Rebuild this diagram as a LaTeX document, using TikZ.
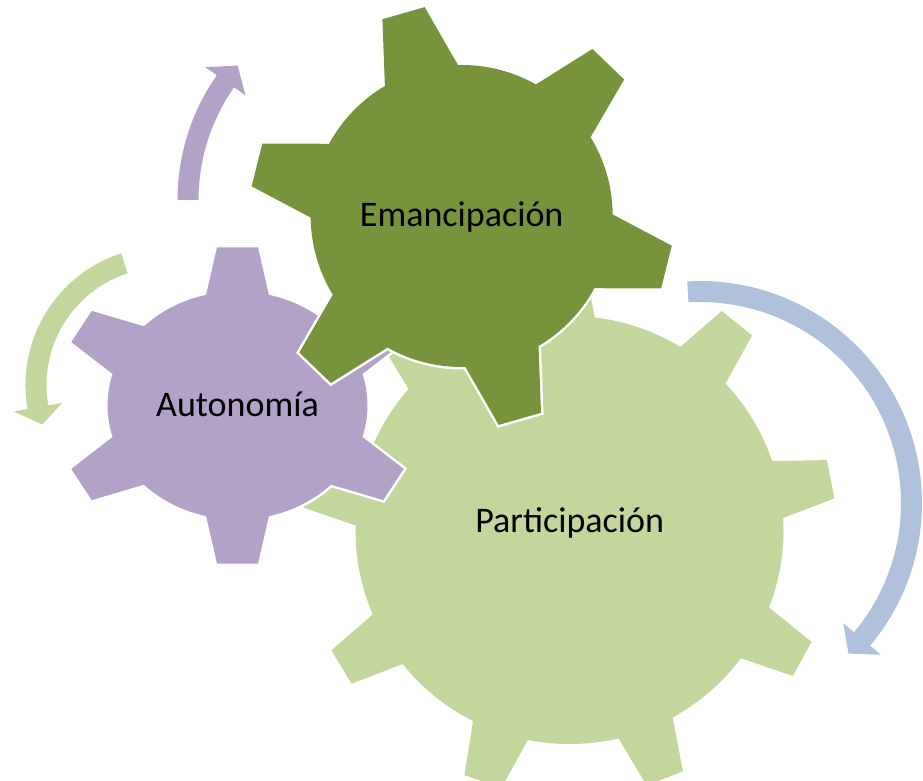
\documentclass[tikz,border=0pt]{standalone}
\usepackage{fontspec}
\setmainfont{Carlito}
\usetikzlibrary{calc}

\definecolor{verdeosc}{RGB}{119,147,60}
\definecolor{verdecla}{RGB}{195,214,155}
\definecolor{lila}{RGB}{179,162,199}
\definecolor{azulcla}{RGB}{176,193,220}

% #1 colour, #2 inner radius, #3 outer radius, #4 base half width, #5 tip half width, #6 tooth angles
\newcommand{\rueda}[6]{%
	\pgfmathsetmacro\rbase{100*sqrt((#2/100)^2-(#4/100)^2)}%
	\pgfmathsetmacro\rin{#3-1.5*(#3-\rbase)}%
	\pgfmathsetmacro\win{#5+1.5*(#4-#5)}%
	\foreach \capa in {borde,relleno}{%
		\path[\capa,fill=#1] (0,0) circle (#2);
		\foreach \a in {#6}{%
			\path[\capa,fill=#1] ($(\a:#3)+(\a+90:#5)$) -- ($(\a:#3)+(\a-90:#5)$)
				-- ($(\a:\rin)+(\a-90:\win)$) -- ($(\a:\rin)+(\a+90:\win)$) -- cycle;
		}
	}
}
% #1 colour, #2 radius, #3 tail angle, #4 head angle, #5 tip angle
\newcommand{\flecha}[5]{%
	\fill[#1] ({#3}:{#2+10.5}) arc[start angle=#3,end angle=#4,radius=#2+10.5]
		-- ({#4}:{#2+24.5}) -- ({#5}:{#2}) -- ({#4}:{#2-24.5}) -- ({#4}:{#2-10.5})
		arc[start angle=#4,end angle=#3,radius=#2-10.5] -- cycle;
}

\begin{document}
\begin{tikzpicture}[x=1pt,y=1pt,
	borde/.style={draw=white,line width=5pt},
	relleno/.style={draw=none},
	rotulo/.style={font=\fontsize{36}{40}\selectfont,anchor=base}]
	%\draw[help lines] (0,0) grid[step=50] (923,780);
	\useasboundingbox (0,0) rectangle (923,780);
	\coordinate (cPart) at (569.5,250);
	\coordinate (cAuto) at (237.5,374.5);
	\coordinate (cEman) at (461.7,564);
	\coordinate (cLila) at (395,580);
	\coordinate (cVerde) at (164,395);
	\coordinate (cAzul) at (700,277);
	% flechas
	\begin{scope}[shift={(cLila)}]
		\flecha{lila}{207}{180}{145}{139.5}
	\end{scope}
	\begin{scope}[shift={(cVerde)}]
		\flecha{verdecla}{128}{108}{190}{198}
	\end{scope}
	\begin{scope}[shift={(cAzul)}]
		\flecha{azulcla}{211.5}{93.3}{-40}{-45.4}
	\end{scope}
	% ruedas
	\begin{scope}[shift={(cPart)}]
		\rueda{verdecla}{214}{266}{29}{19.5}{11,51,...,331}
	\end{scope}
	\begin{scope}[shift={(cAuto)},xscale=1.14]
		\rueda{lila}{114}{158}{27.5}{18}{30,90,...,330}
	\end{scope}
	\begin{scope}[shift={(cEman)}]
		\rueda{verdeosc}{151}{211}{38}{22}{106,46,...,-194}
	\end{scope}
	\node[rotulo] (partic) at (569.7,247.3) {Participación};
	\node[rotulo] (auton) at (237.5,363.3) {Autonomía};
	\node[rotulo] (emanc) at (461.7,553.3) {Emancipación};
\end{tikzpicture}
\end{document}
